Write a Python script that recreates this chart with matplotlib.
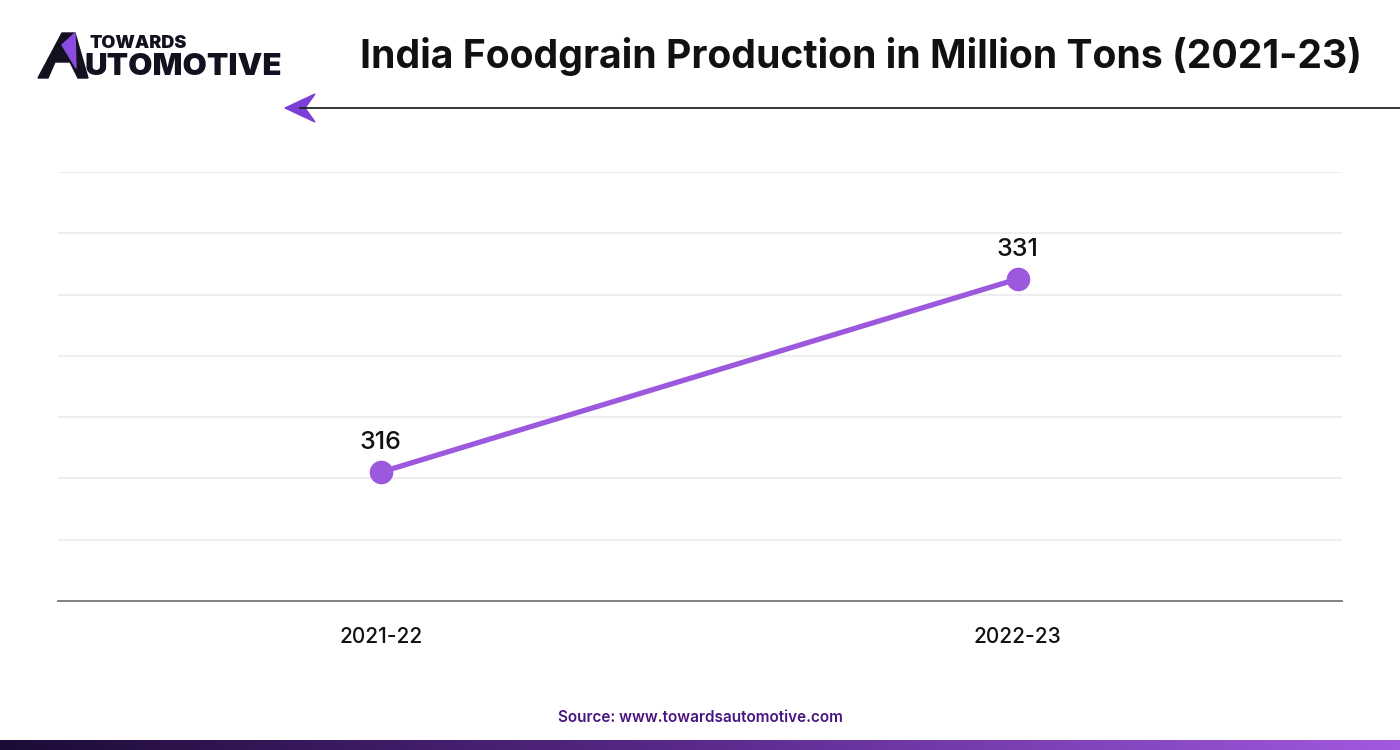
import numpy as np
import matplotlib.pyplot as plt
from matplotlib.patches import Polygon
from matplotlib.colors import LinearSegmentedColormap

# Datos
years = ['2021-22', '2022-23']
production = [316, 331]
title = 'India Foodgrain Production in Million Tons (2021-23)'
source = 'Source: www.towardsautomotive.com'

purple = '#9c59de'
plt.rcParams['font.family'] = ['Inter', 'DejaVu Sans']

fig = plt.figure(figsize=(14, 7.5), dpi=100)
ax = fig.add_axes([0.0414, 0.1987, 0.9172, 0.572])

x = np.arange(len(years))
ax.plot(x, production, color=purple, lw=3.8, marker='o', markersize=16, zorder=3)
for xi, v in zip(x, production):
    ax.annotate(f'{v}', (xi, v), xytext=(0, 13), textcoords='offset points',
                ha='center', va='bottom', fontsize=18, fontweight='medium', color='#111111')

ax.set_xlim(-0.507, 1.509)
ax.set_ylim(306.0, 339.3)
ax.set_yticks(np.linspace(306.0, 339.3, 8))
ax.set_xticks(x)
ax.set_xticklabels(years, fontsize=15, fontweight='medium', color='#111111')
ax.tick_params(axis='x', length=0, pad=19)
ax.tick_params(axis='y', length=0, labelleft=False)
ax.grid(axis='y', color='#ebebeb', lw=1.2)
ax.set_axisbelow(True)
for s in ['top', 'right', 'left']:
    ax.spines[s].set_visible(False)
ax.spines['bottom'].set_color('#777777')
ax.spines['bottom'].set_linewidth(1.3)

# Título
fig.text(0.615, 1 - 57 / 750, title, ha='center', va='center', fontsize=28.2,
         fontweight='bold', color='#111111')

# Línea con flecha
fig.add_artist(plt.Line2D([300 / 1400, 1.0], [1 - 108 / 750] * 2, color='#222222', lw=1.3))
arrow = [(285, 108), (315, 94), (305, 108), (315, 122)]
fig.add_artist(Polygon([(px / 1400, 1 - py / 750) for px, py in arrow],
                       closed=True, transform=fig.transFigure, color='#7b3fd6'))

# Logo
fig.text(90 / 1400, 1 - 43 / 750, 'TOWARDS', fontsize=13, fontweight='black',
         color='#15101f', va='center')
fig.text(84 / 1400, 1 - 67 / 750, 'UTOMOTIVE', fontsize=22.5, fontweight='black',
         color='#15101f', va='center')
logo_a = [(38, 78), (62, 33), (75, 33), (88, 78), (78, 78), (70, 62), (55, 62), (48, 78)]
fig.add_artist(Polygon([(px / 1400, 1 - py / 750) for px, py in logo_a],
                       closed=True, transform=fig.transFigure, color='#15101f'))
logo_tri = [(62, 45), (75, 33), (76, 68)]
fig.add_artist(Polygon([(px / 1400, 1 - py / 750) for px, py in logo_tri],
                       closed=True, transform=fig.transFigure, color='#8b4be0'))

# Fuente
fig.text(0.5, 1 - 717 / 750, source, ha='center', va='center', fontsize=11,
         fontweight='semibold', color='#4a1580')

# Barra inferior con degradado
bar_ax = fig.add_axes([0, 0, 1, 10 / 750])
grad = np.linspace(0, 1, 512).reshape(1, -1)
cmap = LinearSegmentedColormap.from_list('bar', ['#1c0b36', '#5a2a8c', '#a259e0'])
bar_ax.imshow(grad, aspect='auto', cmap=cmap)
bar_ax.axis('off')

plt.savefig('out.png', dpi=100)
